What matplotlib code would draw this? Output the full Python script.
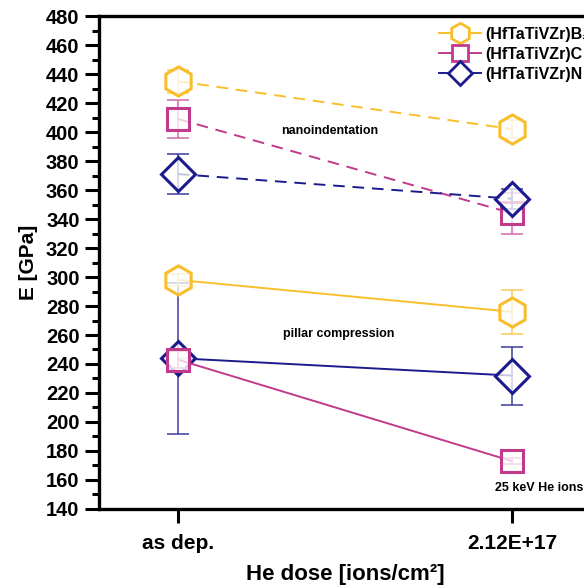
import matplotlib
matplotlib.use("Agg")
import matplotlib.pyplot as plt

plt.rcParams['font.family'] = ['Liberation Sans', 'DejaVu Sans']
plt.rcParams['font.weight'] = 'bold'

# x categories
doses = ["as dep.", "2.12E+17"]
xpos = [0, 1]

# nanoindentation (dashed)
nano_B2 = [435, 402]
nano_B2_err = [8, 6]
nano_C = [409, 344]
nano_C_err = [13, 14]
nano_N = [371, 354]
nano_N_err = [14, 7]

# pillar compression (solid)
pill_B2 = [298, 276]
pill_B2_err = [4, 15]
pill_C = [243, 173]
pill_C_err = [6, 2]
pill_N = [244, 232]
pill_N_err = [52, 20]

labels = ["(HfTaTiVZr)B\u2082", "(HfTaTiVZr)C", "(HfTaTiVZr)N"]
colors = ["#F8BE2C", "#C13A8C", "#1B1B8E"]
err_colors = ["#F9CC55", "#D06AA8", "#3C3CA3"]
markers = ["h", "s", "D"]
msizes = [21, 16.5, 17]

fig = plt.figure(figsize=(5.84, 5.87), dpi=100)
ax = fig.add_axes([0.1695, 0.1329, 1.012 - 0.1695, 0.9727 - 0.1329])

def series(vals, errs, i, ls, z):
    ax.plot(xpos, vals, ls=ls, color=colors[i], lw=1.4, zorder=z,
            dashes=(6, 4) if ls == '--' else (None, None))
    ax.errorbar(xpos, vals, yerr=errs, fmt='none', ecolor=err_colors[i],
                elinewidth=1.1, capsize=8, capthick=1.1, zorder=z + 1)
    ax.plot(xpos, vals, ls='none', marker=markers[i], ms=msizes[i],
            mfc=(1, 1, 1, 0.75), mec=colors[i], mew=2.2, zorder=z + 2)

series(nano_B2, nano_B2_err, 0, '--', 3)
series(nano_C, nano_C_err, 1, '--', 6)
series(nano_N, nano_N_err, 2, '--', 9)
series(pill_N, pill_N_err, 2, '-', 3)
series(pill_C, pill_C_err, 1, '-', 6)
series(pill_B2, pill_B2_err, 0, '-', 9)

handles = [ax.plot([], [], ls='-', color=colors[i], lw=1.4, marker=markers[i],
                   ms=msizes[i], mfc='white', mec=colors[i], mew=2.0)[0]
           for i in range(3)]
fig.legend(handles, labels, loc='upper left', bbox_to_anchor=(0.752, 0.954),
           frameon=False, fontsize=11.5, handlelength=2.6, handletextpad=0.3,
           labelspacing=0.3, markerscale=0.7, borderpad=0, borderaxespad=0)

ax.text(0.455, 401, "nanoindentation", fontsize=9, ha='center', va='center')
ax.text(0.48, 261, "pillar compression", fontsize=9, ha='center', va='center')
ax.text(0.985, 0.03, "25 keV He ions", fontsize=9, ha='right', va='bottom',
        transform=ax.transAxes)

ax.set_xlim(-0.2365, 1.2365)
ax.set_ylim(140, 480)
ax.set_xticks(xpos)
ax.set_xticklabels(doses)
ax.set_yticks(range(140, 481, 20))
ax.set_yticks(range(150, 480, 20), minor=True)
ax.tick_params(axis='both', which='major', direction='out', length=10, width=2.2,
               labelsize=15)
ax.tick_params(axis='y', which='minor', direction='out', length=5, width=2.2)
ax.tick_params(axis='y', labelsize=14.5, pad=4)
ax.tick_params(axis='x', pad=8)
for s in ax.spines.values():
    s.set_linewidth(2.4)

ax.set_xlabel("He dose [ions/cm\u00b2]", fontsize=16, fontweight='bold', labelpad=8)
ax.set_ylabel("E [GPa]", fontsize=15, fontweight='bold', labelpad=6)

fig.savefig("out.png", dpi=100)
